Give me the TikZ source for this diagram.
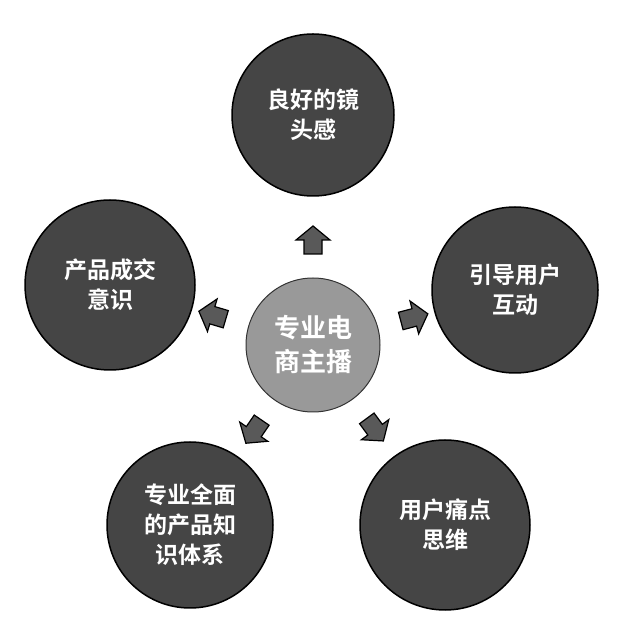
\documentclass[tikz,border=0pt]{standalone}
\usepackage{fontspec}
\newfontfamily\cjk{Noto Sans CJK SC}[BoldFont={Noto Sans CJK SC Bold}]
\usetikzlibrary{calc}
\tikzset{
  outer/.style={circle,draw=black,line width=1.5pt,fill=black!73,minimum size=#1,text=white,align=center,font=\cjk\bfseries\fontsize{23}{30}\selectfont,inner sep=0pt},
  inner/.style={circle,draw=black!80,line width=1pt,fill=black!40,minimum size=134pt,text=white,align=center,font=\cjk\bfseries\fontsize{26}{34}\selectfont},
  arr/.pic={\draw[black,line width=1.2pt,fill=black!65,line join=miter] (-13,-9)--(1,-9)--(1,-17)--(15,0)--(1,17)--(1,9)--(-13,9)--cycle;}
}
\begin{document}
\begin{tikzpicture}[x=1pt,y=1pt]
\useasboundingbox (0,0) rectangle (622,632);
\node[inner] (c) at (313,287) {专业电\\商主播};
\node[outer=162pt] (t) at (313,517) {良好的镜\\头感};
\node[outer=170pt] (l) at (110,347) {产品成交\\意识};
\node[outer=166pt] (r) at (515,342) {引导用户\\互动};
\node[outer=166pt] (bl) at (190,107) {专业全面\\的产品知\\识体系};
\node[outer=170pt] (br) at (445,107) {用户痛点\\思维};
\foreach \n/\a in {t/90,l/163.5,r/14.8,bl/235.6,br/306.3}{
  \pic[rotate=\a] at ($(c)!104pt!(\n)$) {arr};
}
\end{tikzpicture}
\end{document}
